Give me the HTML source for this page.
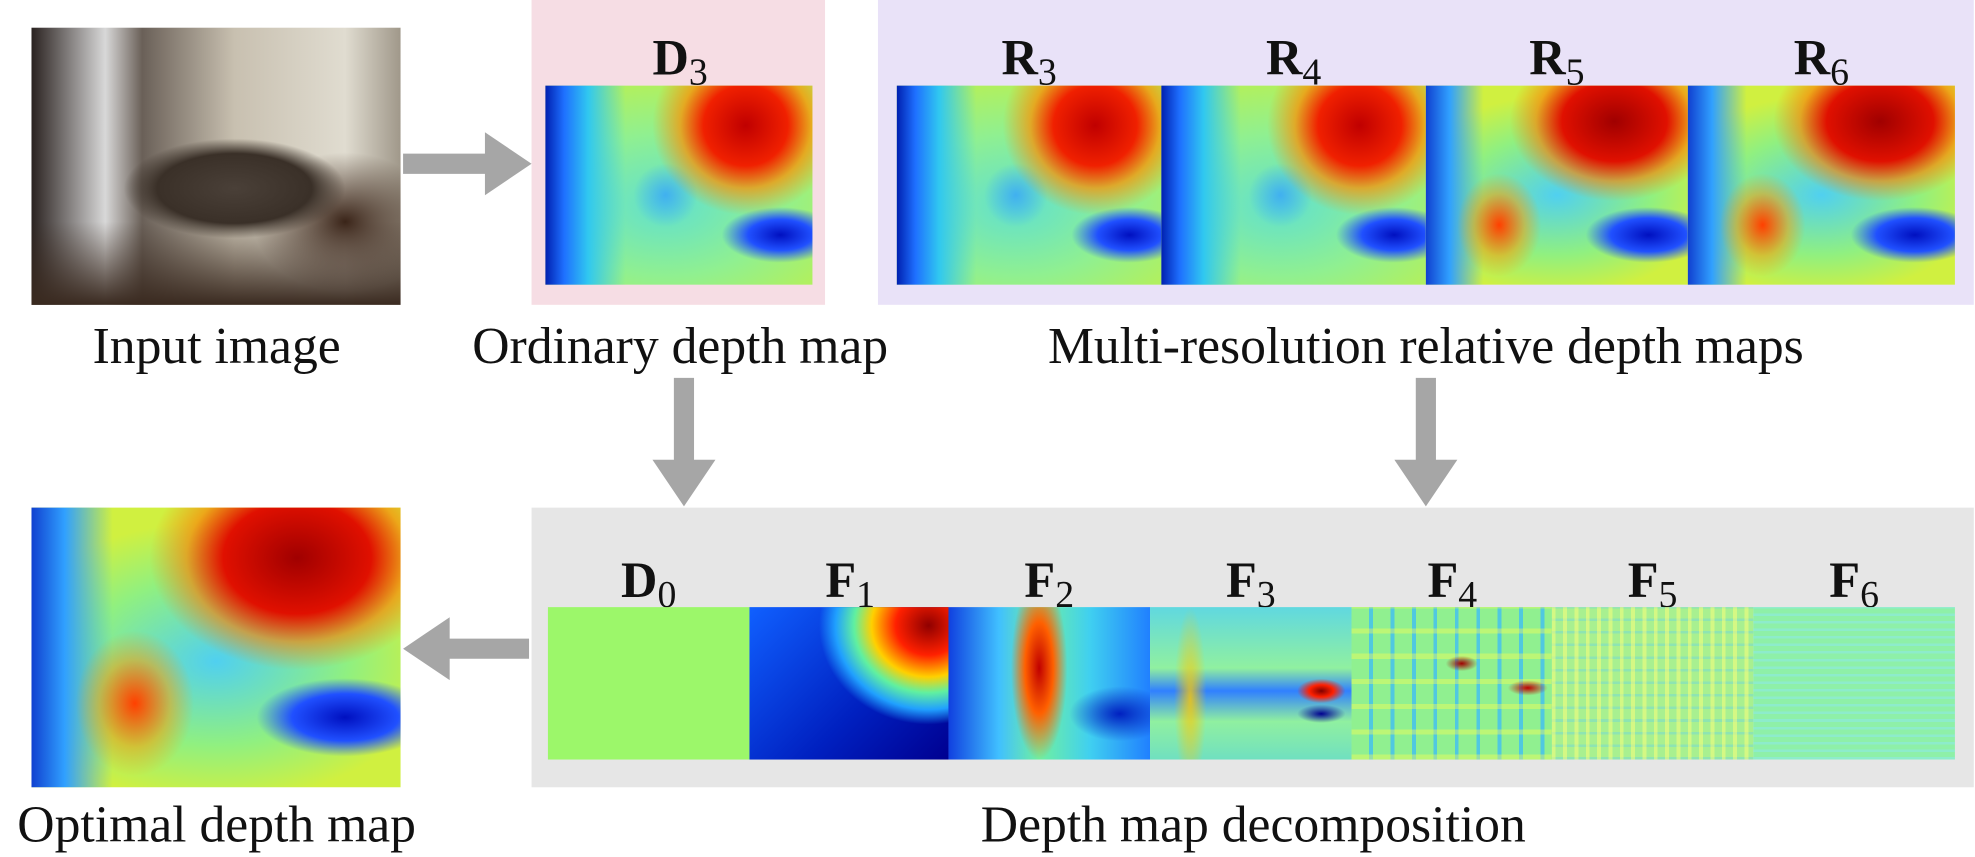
<!DOCTYPE html>
<html><head><meta charset="utf-8">
<style>
body{margin:0;width:1975px;height:856px;background:#fff;position:relative;overflow:hidden;font-family:"Liberation Serif",serif;}
#wrap{position:absolute;left:0;top:0;width:1568px;height:680px;transform:scale(1.2596);transform-origin:0 0;}
.abs{position:absolute;}
.cap{position:absolute;font-size:41px;color:#111;text-align:center;white-space:nowrap;transform:translateX(-50%);}
.lab{position:absolute;font-size:40px;font-weight:bold;transform:translateX(-50%);color:#111;}
.lab sub{font-weight:normal;font-size:30px;vertical-align:-8px;}
.img{position:absolute;}
.jet{background:
 radial-gradient(ellipse 35% 45% at 75% 20%, #c00000 0%, #f02000 45%, rgba(255,140,0,0.7) 70%, rgba(255,220,0,0) 100%),
 radial-gradient(ellipse 22% 14% at 88% 75%, #0010c0 0%, #2050ff 55%, rgba(0,160,255,0) 100%),
 radial-gradient(ellipse 12% 16% at 45% 55%, #40b0f0 0%, rgba(80,200,240,0) 100%),
 linear-gradient(90deg,#0020b0 0%,#1e70ff 7%,#30c8f0 16%,rgba(100,230,200,0) 30%),
 radial-gradient(ellipse 70% 60% at 45% 60%, #60e0d0 0%, #90f090 60%, #b0f060 100%);}
.jet2{background:
 radial-gradient(ellipse 40% 40% at 72% 18%, #a00000 0%, #e01000 50%, rgba(255,120,0,0.6) 75%, rgba(255,200,0,0) 100%),
 radial-gradient(ellipse 16% 26% at 28% 70%, #ff4000 0%, rgba(255,150,0,0.5) 60%, rgba(255,255,0,0) 100%),
 radial-gradient(ellipse 24% 14% at 85% 75%, #0010c0 0%, #2050ff 60%, rgba(0,160,255,0) 100%),
 linear-gradient(90deg,#1040d0 0%,#30a0ff 9%,rgba(60,200,240,0) 22%),
 radial-gradient(ellipse 60% 50% at 50% 55%, #50d0f0 0%, #90f080 60%, #d0f040 100%);}
</style></head><body>
<div id="wrap">
<div class="abs" style="left:422px;top:0;width:233px;height:242px;background:#f6dde4;"></div>
<div class="abs" style="left:697px;top:0;width:870px;height:242px;background:#e9e2f8;"></div>
<div class="abs" style="left:422px;top:403px;width:1145px;height:222px;background:#e6e6e6;"></div>

<div class="img" style="left:25px;top:22px;width:293px;height:220px;background:
 radial-gradient(ellipse 30% 18% at 55% 58%, #4a4038 0%, #3a3028 70%, rgba(0,0,0,0) 100%),
 radial-gradient(ellipse 25% 25% at 85% 70%, #3a2418 0%, rgba(0,0,0,0) 100%),
 linear-gradient(180deg,rgba(0,0,0,0) 70%,#3a2a20 100%),
 linear-gradient(90deg,#2a2220 0%,#d8d8d8 20%,#6a6058 30%,#c8c0b0 55%,#e0dcd0 85%,#a0988a 100%);"></div>
<div class="cap" style="left:172px;top:250px;">Input image</div>

<div class="lab" style="left:540px;top:22px;">D<sub>3</sub></div>
<div class="img jet" style="left:433px;top:68px;width:212px;height:158px;"></div>
<div class="cap" style="left:540px;top:250px;">Ordinary depth map</div>

<div class="lab" style="left:817px;top:22px;">R<sub>3</sub></div>
<div class="lab" style="left:1027px;top:22px;">R<sub>4</sub></div>
<div class="lab" style="left:1236px;top:22px;">R<sub>5</sub></div>
<div class="lab" style="left:1446px;top:22px;">R<sub>6</sub></div>
<div class="img jet" style="left:712px;top:68px;width:210px;height:158px;"></div>
<div class="img jet" style="left:922px;top:68px;width:210px;height:158px;"></div>
<div class="img jet2" style="left:1132px;top:68px;width:208px;height:158px;"></div>
<div class="img jet2" style="left:1340px;top:68px;width:212px;height:158px;"></div>
<div class="cap" style="left:1132px;top:250px;">Multi-resolution relative depth maps</div>

<svg class="abs" style="left:0;top:0" width="1568" height="680">
 <g fill="#a6a6a6">
  <polygon points="320,122 385,122 385,105 422,130 385,155 385,138 320,138"/>
  <polygon points="535,300 551,300 551,365 568,365 543,402 518,365 535,365"/>
  <polygon points="1124,300 1140,300 1140,365 1157,365 1132,402 1107,365 1124,365"/>
  <polygon points="420,507 357,507 357,490 320,515 357,540 357,523 420,523"/>
 </g>
</svg>

<div class="img jet2" style="left:25px;top:403px;width:293px;height:222px;"></div>
<div class="cap" style="left:172px;top:630px;">Optimal depth map</div>

<div class="lab" style="left:515px;top:437px;">D<sub>0</sub></div>
<div class="lab" style="left:675px;top:437px;">F<sub>1</sub></div>
<div class="lab" style="left:833px;top:437px;">F<sub>2</sub></div>
<div class="lab" style="left:993px;top:437px;">F<sub>3</sub></div>
<div class="lab" style="left:1153px;top:437px;">F<sub>4</sub></div>
<div class="lab" style="left:1312px;top:437px;">F<sub>5</sub></div>
<div class="lab" style="left:1472px;top:437px;">F<sub>6</sub></div>

<div class="img" style="left:435px;top:482px;width:160px;height:121px;background:#9cf76a;"></div>
<div class="img" style="left:595px;top:482px;width:158px;height:121px;background:
 radial-gradient(ellipse 55% 65% at 90% 12%, #900000 0%, #ff2000 30%, #ffd000 52%, #60f0a0 68%, #20a0ff 85%, rgba(0,60,220,0) 100%),
 linear-gradient(135deg,#1060ff 0%,#0020c0 60%,#000090 100%);"></div>
<div class="img" style="left:753px;top:482px;width:160px;height:121px;background:
 radial-gradient(ellipse 14% 60% at 45% 40%, #c00000 0%, #ff6000 50%, rgba(255,220,0,0) 100%),
 radial-gradient(ellipse 25% 18% at 85% 70%, #0020c0 0%, rgba(0,100,255,0) 100%),
 linear-gradient(90deg,#1040e0 0%,#40c0ff 25%,#70f0a0 45%,#40d0f0 70%,#2080ff 100%);"></div>
<div class="img" style="left:913px;top:482px;width:160px;height:121px;background:
 radial-gradient(ellipse 12% 8% at 85% 55%, #800000 0%, #ff2000 50%, rgba(255,200,0,0) 100%),
 radial-gradient(ellipse 12% 6% at 85% 70%, #000090 0%, rgba(0,60,255,0) 100%),
 radial-gradient(ellipse 8% 60% at 20% 60%, rgba(255,200,0,0.8) 0%, rgba(255,200,0,0) 100%),
 linear-gradient(180deg,#60d8e0 0%,#90f0a0 40%,#3080ff 55%,#90f0a0 75%,#70e0c0 100%);"></div>
<div class="img" style="left:1073px;top:482px;width:159px;height:121px;background:
 radial-gradient(ellipse 8% 5% at 55% 37%, #a00000 0%, rgba(255,100,0,0) 100%),
 radial-gradient(ellipse 10% 5% at 88% 53%, #c00000 0%, rgba(255,100,0,0) 100%),
 repeating-linear-gradient(0deg,rgba(255,255,80,0.4) 0 4px,rgba(0,0,0,0) 4px 20px),
 repeating-linear-gradient(90deg,#90f090 0 14px,#50c8e0 14px 17px),
 #90f090;"></div>
<div class="img" style="left:1232px;top:482px;width:160px;height:121px;background:
 repeating-linear-gradient(90deg,rgba(255,255,120,0.5) 0 3px,rgba(0,0,0,0) 3px 9px),
 repeating-linear-gradient(0deg,rgba(80,200,255,0.3) 0 2px,rgba(0,0,0,0) 2px 10px),
 #a8f090;"></div>
<div class="img" style="left:1392px;top:482px;width:160px;height:121px;background:
 repeating-linear-gradient(0deg,rgba(140,230,255,0.4) 0 2px,rgba(0,0,0,0) 2px 6px),
 #8ef0a8;"></div>
<div class="cap" style="left:995px;top:630px;">Depth map decomposition</div>
</div>
</body></html>
